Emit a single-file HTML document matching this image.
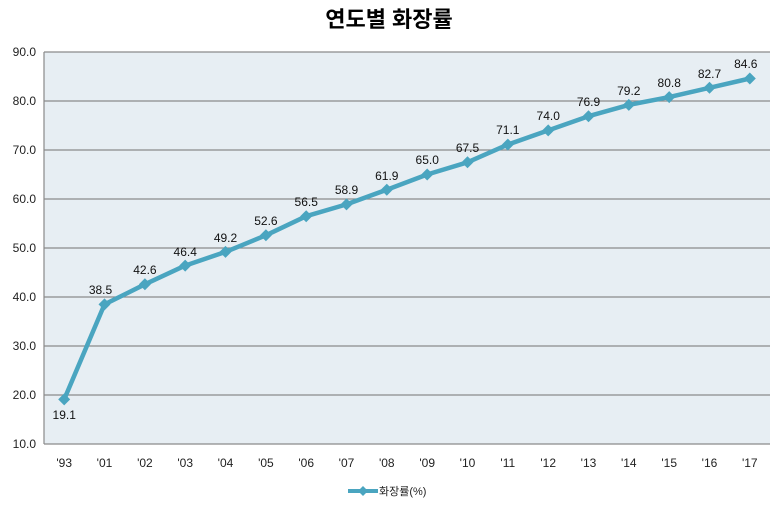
<!DOCTYPE html>
<html><head><meta charset="utf-8"><style>
body{margin:0;background:#fff;}
svg text{font-family:"Liberation Sans","Noto Sans CJK KR",sans-serif;}
</style></head><body>
<svg width="779" height="500" xmlns="http://www.w3.org/2000/svg">
<defs><marker id="d" markerWidth="14" markerHeight="14" refX="7" refY="7" markerUnits="userSpaceOnUse"><path d="M7 1 L13 7 L7 13 L1 7 Z" fill="#4aa5c0"/></marker></defs>
<text x="389" y="27" text-anchor="middle" font-size="22" font-weight="bold" fill="#000">연도별 화장률</text>
<rect x="44" y="52" width="726" height="392" fill="#e7eef3"/>
<g stroke="#8a8a8a" stroke-width="1.2">
<line x1="44" y1="52" x2="770" y2="52"/><line x1="44" y1="101" x2="770" y2="101"/>
<line x1="44" y1="150" x2="770" y2="150"/><line x1="44" y1="199" x2="770" y2="199"/>
<line x1="44" y1="248" x2="770" y2="248"/><line x1="44" y1="297" x2="770" y2="297"/>
<line x1="44" y1="346" x2="770" y2="346"/><line x1="44" y1="395" x2="770" y2="395"/>
<line x1="44" y1="444" x2="770" y2="444"/><line x1="44" y1="52" x2="44" y2="444"/>
</g>
<g font-size="12" fill="#222" text-anchor="end">
<text x="36" y="56">90.0</text><text x="36" y="105">80.0</text><text x="36" y="154">70.0</text>
<text x="36" y="203">60.0</text><text x="36" y="252">50.0</text><text x="36" y="301">40.0</text>
<text x="36" y="350">30.0</text><text x="36" y="399">20.0</text><text x="36" y="448">10.0</text>
</g>
<polyline points="64.2,399.4 104.5,304.4 144.9,284.3 185.2,265.6 225.5,251.9 265.9,235.3 306.2,216.2 346.5,204.4 386.8,189.7 427.2,174.5 467.5,162.3 507.8,144.6 548.2,130.4 588.5,116.2 628.8,104.9 669.2,97.1 709.5,87.8 749.8,78.5" fill="none" stroke="#4aa5c0" stroke-width="4.5" stroke-linejoin="round" marker-start="url(#d)" marker-mid="url(#d)" marker-end="url(#d)"/>
<g font-size="12" fill="#222" text-anchor="middle">
<text x="64.2" y="467">'93</text><text x="104.5" y="467">'01</text><text x="144.9" y="467">'02</text><text x="185.2" y="467">'03</text><text x="225.5" y="467">'04</text><text x="265.9" y="467">'05</text><text x="306.2" y="467">'06</text><text x="346.5" y="467">'07</text><text x="386.8" y="467">'08</text><text x="427.2" y="467">'09</text><text x="467.5" y="467">'10</text><text x="507.8" y="467">'11</text><text x="548.2" y="467">'12</text><text x="588.5" y="467">'13</text><text x="628.8" y="467">'14</text><text x="669.2" y="467">'15</text><text x="709.5" y="467">'16</text><text x="749.8" y="467">'17</text>
</g>
<g font-size="12" fill="#111" text-anchor="middle">
<text x="64.2" y="419">19.1</text><text x="100.5" y="294">38.5</text><text x="144.9" y="274">42.6</text><text x="185.2" y="256">46.4</text><text x="225.5" y="242">49.2</text><text x="265.9" y="225">52.6</text><text x="306.2" y="206">56.5</text><text x="346.5" y="194">58.9</text><text x="386.8" y="180">61.9</text><text x="427.2" y="164">65.0</text><text x="467.5" y="152">67.5</text><text x="507.8" y="134">71.1</text><text x="548.2" y="120">74.0</text><text x="588.5" y="106">76.9</text><text x="628.8" y="95">79.2</text><text x="669.2" y="87">80.8</text><text x="709.5" y="78">82.7</text><text x="745.8" y="68">84.6</text>
</g>
<line x1="348" y1="491" x2="378" y2="491" stroke="#4aa5c0" stroke-width="4"/>
<path d="M363 486 L368 491 L363 496 L358 491 Z" fill="#4aa5c0"/>
<text x="379" y="495" font-size="11" fill="#222">화장률(%)</text>
</svg>
</body></html>
